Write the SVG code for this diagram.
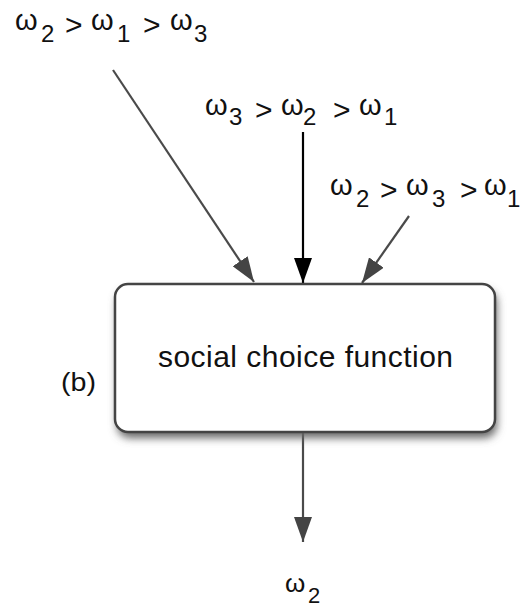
<svg xmlns="http://www.w3.org/2000/svg" width="522" height="608" viewBox="0 0 522 608">
<style>
text{font-family:"Liberation Sans",Arial,sans-serif;fill:#111}
.w{font-size:29px}
.g{font-size:30px}
.d{font-size:24px}
.gray{stroke:#4a4a4a;stroke-width:2.2;fill:none}
.blk{stroke:#000;stroke-width:2.2;fill:none}
</style>
<defs>
<marker id="ag" viewBox="0 0 25 18" refX="25" refY="9" markerWidth="25" markerHeight="18" markerUnits="userSpaceOnUse" orient="auto"><path d="M0,0 L25,9 L0,18 z" fill="#444"/></marker>
<marker id="ab" viewBox="0 0 25 18" refX="25" refY="9" markerWidth="25" markerHeight="18" markerUnits="userSpaceOnUse" orient="auto"><path d="M0,0 L25,9 L0,18 z" fill="#000"/></marker>
<filter id="sh" x="-10%" y="-10%" width="120%" height="130%"><feGaussianBlur stdDeviation="4"/></filter>
</defs>
<g id="connectors">
<line class="gray" x1="113" y1="70" x2="254" y2="282" marker-end="url(#ag)"/>
<line class="blk" x1="303" y1="132" x2="303" y2="283" marker-end="url(#ab)"/>
<line class="gray" x1="409" y1="216" x2="362" y2="283" marker-end="url(#ag)"/>
<line class="gray" x1="303" y1="433" x2="303" y2="542" marker-end="url(#ag)"/>
</g>
<g id="box">
<rect x="117" y="290" width="380" height="148" rx="13" fill="#666" filter="url(#sh)"/>
<rect x="115" y="284" width="380" height="148" rx="13" fill="#fff" stroke="#444" stroke-width="2.5"/>
<text x="158" y="367" textLength="295" style="font-size:30px">social choice function</text>
</g>
<g id="label-b"><text x="61" y="391" textLength="35" lengthAdjust="spacingAndGlyphs" style="font-size:25px">(b)</text></g>
<g id="pref1">
<text class="w" x="15" y="30">ω</text>
<text class="d" x="41" y="42">2</text>
<text class="g" x="65" y="35">&gt;</text>
<text class="w" x="91" y="30">ω</text>
<text class="d" x="117" y="42">1</text>
<text class="g" x="143" y="35">&gt;</text>
<text class="w" x="170" y="30">ω</text>
<text class="d" x="194" y="42">3</text>
</g>
<g id="pref2">
<text class="w" x="205" y="115">ω</text>
<text class="d" x="229" y="125">3</text>
<text class="g" x="255" y="120">&gt;</text>
<text class="w" x="281" y="115">ω</text>
<text class="d" x="303" y="125">2</text>
<text class="g" x="333" y="120">&gt;</text>
<text class="w" x="359" y="115">ω</text>
<text class="d" x="384" y="125">1</text>
</g>
<g id="pref3">
<text class="w" x="330" y="195">ω</text>
<text class="d" x="356" y="207">2</text>
<text class="g" x="380" y="200">&gt;</text>
<text class="w" x="406" y="195">ω</text>
<text class="d" x="432" y="207">3</text>
<text class="g" x="460" y="200">&gt;</text>
<text class="w" x="484" y="195">ω</text>
<text class="d" x="507" y="207">1</text>
</g>
<g id="out">
<text x="285" y="592" style="font-size:26px">ω</text>
<text x="308" y="603" style="font-size:22px">2</text>
</g>
</svg>
